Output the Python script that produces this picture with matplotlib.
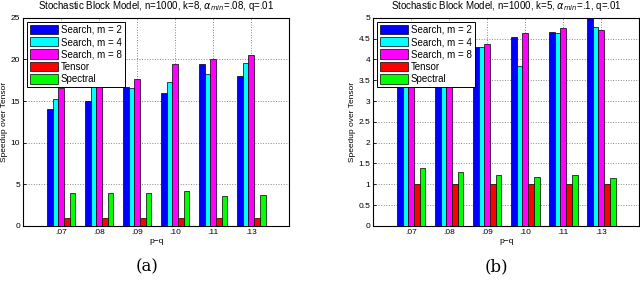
import matplotlib
matplotlib.use('Agg')
import matplotlib.pyplot as plt
import numpy as np

# p-q groups
groups = ['.07', '.08', '.09', '.10', '.11', '.13']
series_names = ['Search, m = 2', 'Search, m = 4', 'Search, m = 8', 'Tensor', 'Spectral']
colors = ['#0000ff', '#00ffff', '#ff00ff', '#ff0000', '#00ff00']

# panel (a): n=1000, k=8
a_m2 = [14.05, 14.95, 16.65, 16.0, 19.4, 17.95]
a_m4 = [15.25, 17.4, 16.55, 17.25, 18.25, 19.55]
a_m8 = [16.55, 17.8, 17.6, 19.45, 20.0, 20.55]
a_tensor = [1, 1, 1, 1, 1, 1]
a_spectral = [4.0, 3.93, 4.0, 4.15, 3.6, 3.7]

# panel (b): n=1000, k=5
b_m2 = [3.9, 4.1, 4.3, 4.54, 4.65, 5.0]
b_m4 = [3.8, 4.0, 4.29, 3.83, 4.63, 4.78]
b_m8 = [4.0, 4.2, 4.36, 4.63, 4.76, 4.7]
b_tensor = [1, 1, 1, 1, 1, 1]
b_spectral = [1.4, 1.3, 1.23, 1.17, 1.23, 1.15]

plt.rcParams['font.family'] = ['Liberation Sans', 'DejaVu Sans']
plt.rcParams['font.size'] = 6

fig = plt.figure(figsize=(6.4, 2.82), dpi=100)


def panel(rect, data, ymax, yticks, yticklabels, title, caption, cap_x):
    ax = fig.add_axes(rect)
    x = np.arange(1, len(groups) + 1)
    w = 0.15
    for i, (vals, name, c) in enumerate(zip(data, series_names, colors)):
        ax.bar(x + (i - 2) * w, vals, w, color=c, edgecolor='black',
               linewidth=0.5, label=name, zorder=3)
    ax.set_xlim(0, 7)
    ax.set_ylim(0, ymax)
    ax.set_xticks(x)
    ax.set_xticklabels(groups)
    ax.set_yticks(yticks)
    ax.set_yticklabels(yticklabels)
    ax.grid(True, linestyle=':', color='#888888', linewidth=0.7, zorder=0)
    ax.tick_params(direction='in', length=2, width=0.6, pad=2, labelsize=6)
    for s in ax.spines.values():
        s.set_linewidth(0.8)
    ax.set_xlabel('p\u2212q', fontsize=6, labelpad=2)
    ax.set_ylabel('Speedup over Tensor', fontsize=6, labelpad=2)
    ax.set_title(title, fontsize=7, pad=6)
    leg = ax.legend(loc='upper left', fontsize=7, fancybox=False,
                    edgecolor='black', framealpha=1, handlelength=2.9,
                    handleheight=1.1, borderpad=0.3, labelspacing=0.25,
                    handletextpad=0.3, borderaxespad=0.4)
    leg.get_frame().set_linewidth(0.7)
    leg.set_zorder(5)
    fig.text(cap_x, 0.025, caption, ha='center', va='bottom',
             fontsize=12, family='DejaVu Serif')
    return ax


panel([0.036, 0.199, 0.416, 0.738],
      [a_m2, a_m4, a_m8, a_tensor, a_spectral], 25,
      [0, 5, 10, 15, 20, 25], ['0', '5', '10', '15', '20', '25'],
      r'Stochastic Block Model, n=1000, k=8, $\alpha_{min}$=.08, q=.01', '(a)',
      147 / 640)

panel([0.583, 0.199, 0.416, 0.738],
      [b_m2, b_m4, b_m8, b_tensor, b_spectral], 5,
      [0, 0.5, 1, 1.5, 2, 2.5, 3, 3.5, 4, 4.5, 5],
      ['0', '0.5', '1', '1.5', '2', '2.5', '3', '3.5', '4', '4.5', '5'],
      r'Stochastic Block Model, n=1000, k=5, $\alpha_{min}$=.1, q=.01', '(b)',
      496 / 640)

fig.savefig('out.png', dpi=100)
